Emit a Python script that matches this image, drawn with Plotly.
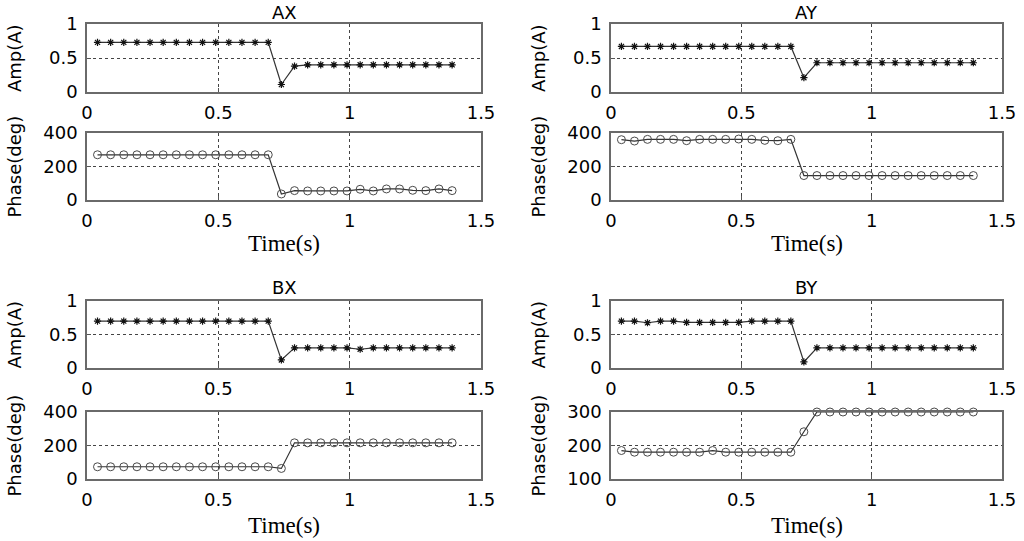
import plotly.graph_objects as go

# time samples (s)
t = [round(0.04 + 0.05 * k, 2) for k in range(28)]

# amplitude (A)
amp_ax = [0.73] * 14 + [0.11, 0.38] + [0.40] * 12
amp_ay = [0.67] * 14 + [0.21, 0.43] + [0.43] * 12
amp_bx = [0.70] * 14 + [0.12, 0.30, 0.30, 0.30, 0.30, 0.30, 0.28] + [0.30] * 7
amp_by = [0.70, 0.70, 0.675, 0.70, 0.70, 0.68, 0.68, 0.68, 0.68, 0.68,
          0.70, 0.70, 0.70, 0.70, 0.09, 0.30] + [0.30] * 12

# phase (deg)
ph_ax = [270] * 14 + [36, 56, 54, 54, 54, 54, 64, 54, 66, 66, 58, 56, 66, 56]
ph_ay = [360, 352, 362, 362, 362, 354, 362, 362, 362, 364, 362, 356, 354, 362] + [146] * 14
ph_bx = [73] * 14 + [63, 216] + [216] * 12
ph_by = [185, 180, 180, 180, 180, 180, 180, 185, 180, 180, 180, 180, 180, 180,
         241, 300] + [300] * 12

titles = ["AX", "AY", "BX", "BY"]
amps = [amp_ax, amp_ay, amp_bx, amp_by]
phases = [ph_ax, ph_ay, ph_bx, ph_by]
phase_ranges = [[0, 400], [0, 400], [0, 400], [100, 300]]
phase_ticks = [[0, 200, 400], [0, 200, 400], [0, 200, 400], [100, 200, 300]]

# geometry in screen pixels
W, H = 1024, 541
col_px = [(87, 481), (611, 1002)]
row_px = [((24, 92), (133, 200)), ((301, 368), (412, 479))]
title_y = [13, 287]
xlabel_y = [243, 525]
ylabel_x = [14, 538]

sans = "DejaVu Sans, Arial"
tick_font = dict(family=sans, size=18, color="#000000")


def px_x(v):
    return v / W


def px_y(v):
    return 1 - v / H


common_axis = dict(
    showline=True, mirror=True, linecolor="#6a6a6a", linewidth=1.5,
    ticks="inside", ticklen=4, tickcolor="#555555",
    showgrid=True, gridcolor="#444444", griddash="dot", gridwidth=1,
    zeroline=False, tickfont=tick_font, automargin=False,
)

fig = go.Figure()
layout = {}
n = 0
for i in range(4):
    r, c = divmod(i, 2)
    for j in range(2):
        n += 1
        sfx = "" if n == 1 else str(n)
        if j == 0:
            y = amps[i]
            marker = dict(symbol="asterisk-open", size=6, color="#111111",
                          line=dict(width=1.2, color="#111111"))
        else:
            y = phases[i]
            marker = dict(symbol="circle-open", size=8, color="#4a4a4a",
                          line=dict(width=1, color="#4a4a4a"))
        fig.add_trace(go.Scatter(
            x=t, y=y, mode="lines+markers", xaxis="x" + sfx, yaxis="y" + sfx,
            line=dict(color="#333333", width=1.2), marker=marker,
            showlegend=False, cliponaxis=False,
        ))
        xs = col_px[c]
        ys = row_px[r][j]
        layout["xaxis" + sfx] = dict(
            common_axis, domain=[px_x(xs[0]), px_x(xs[1])], anchor="y" + sfx,
            range=[0, 1.5], tickvals=[0, 0.5, 1, 1.5],
            ticktext=["0", "0.5", "1", "1.5"], ticklabelstandoff=4,
        )
        ydom = [px_y(ys[1]), px_y(ys[0])]
        if j == 0:
            layout["yaxis" + sfx] = dict(
                common_axis, domain=ydom, anchor="x" + sfx,
                range=[0, 1], tickvals=[0, 0.5, 1], ticktext=["0", "0.5", "1"],
                ticklabelstandoff=4,
            )
        else:
            layout["yaxis" + sfx] = dict(
                common_axis, domain=ydom, anchor="x" + sfx,
                range=phase_ranges[i], tickvals=phase_ticks[i],
                ticklabelstandoff=4,
            )

annotations = []
for i in range(4):
    r, c = divmod(i, 2)
    cx = px_x((col_px[c][0] + col_px[c][1]) / 2)
    annotations.append(dict(
        text=titles[i], x=cx, y=px_y(title_y[r]), xref="paper", yref="paper",
        xanchor="center", yanchor="middle", showarrow=False,
        font=dict(family=sans, size=18, color="#000000"),
    ))
    annotations.append(dict(
        text="Time(s)", x=cx, y=px_y(xlabel_y[r]), xref="paper", yref="paper",
        xanchor="center", yanchor="middle", showarrow=False,
        font=dict(family="Liberation Serif, Times New Roman", size=23, color="#000000"),
    ))
    for j, lab in enumerate(["Amp(A)", "Phase(deg)"]):
        yp = row_px[r][j]
        annotations.append(dict(
            text=lab, x=px_x(ylabel_x[c]), y=px_y((yp[0] + yp[1]) / 2),
            xref="paper", yref="paper", xanchor="center", yanchor="middle",
            textangle=-90, showarrow=False,
            font=dict(family=sans, size=18, color="#000000"),
        ))

fig.update_layout(
    width=W, height=H, margin=dict(l=0, r=0, t=0, b=0),
    plot_bgcolor="white", paper_bgcolor="white",
    annotations=annotations, **layout,
)

# drop the default 8px page margin so the figure sits at the window origin
fig.write_html("out.html", config={"displayModeBar": False},
               post_script="document.body.style.margin='0px';")
